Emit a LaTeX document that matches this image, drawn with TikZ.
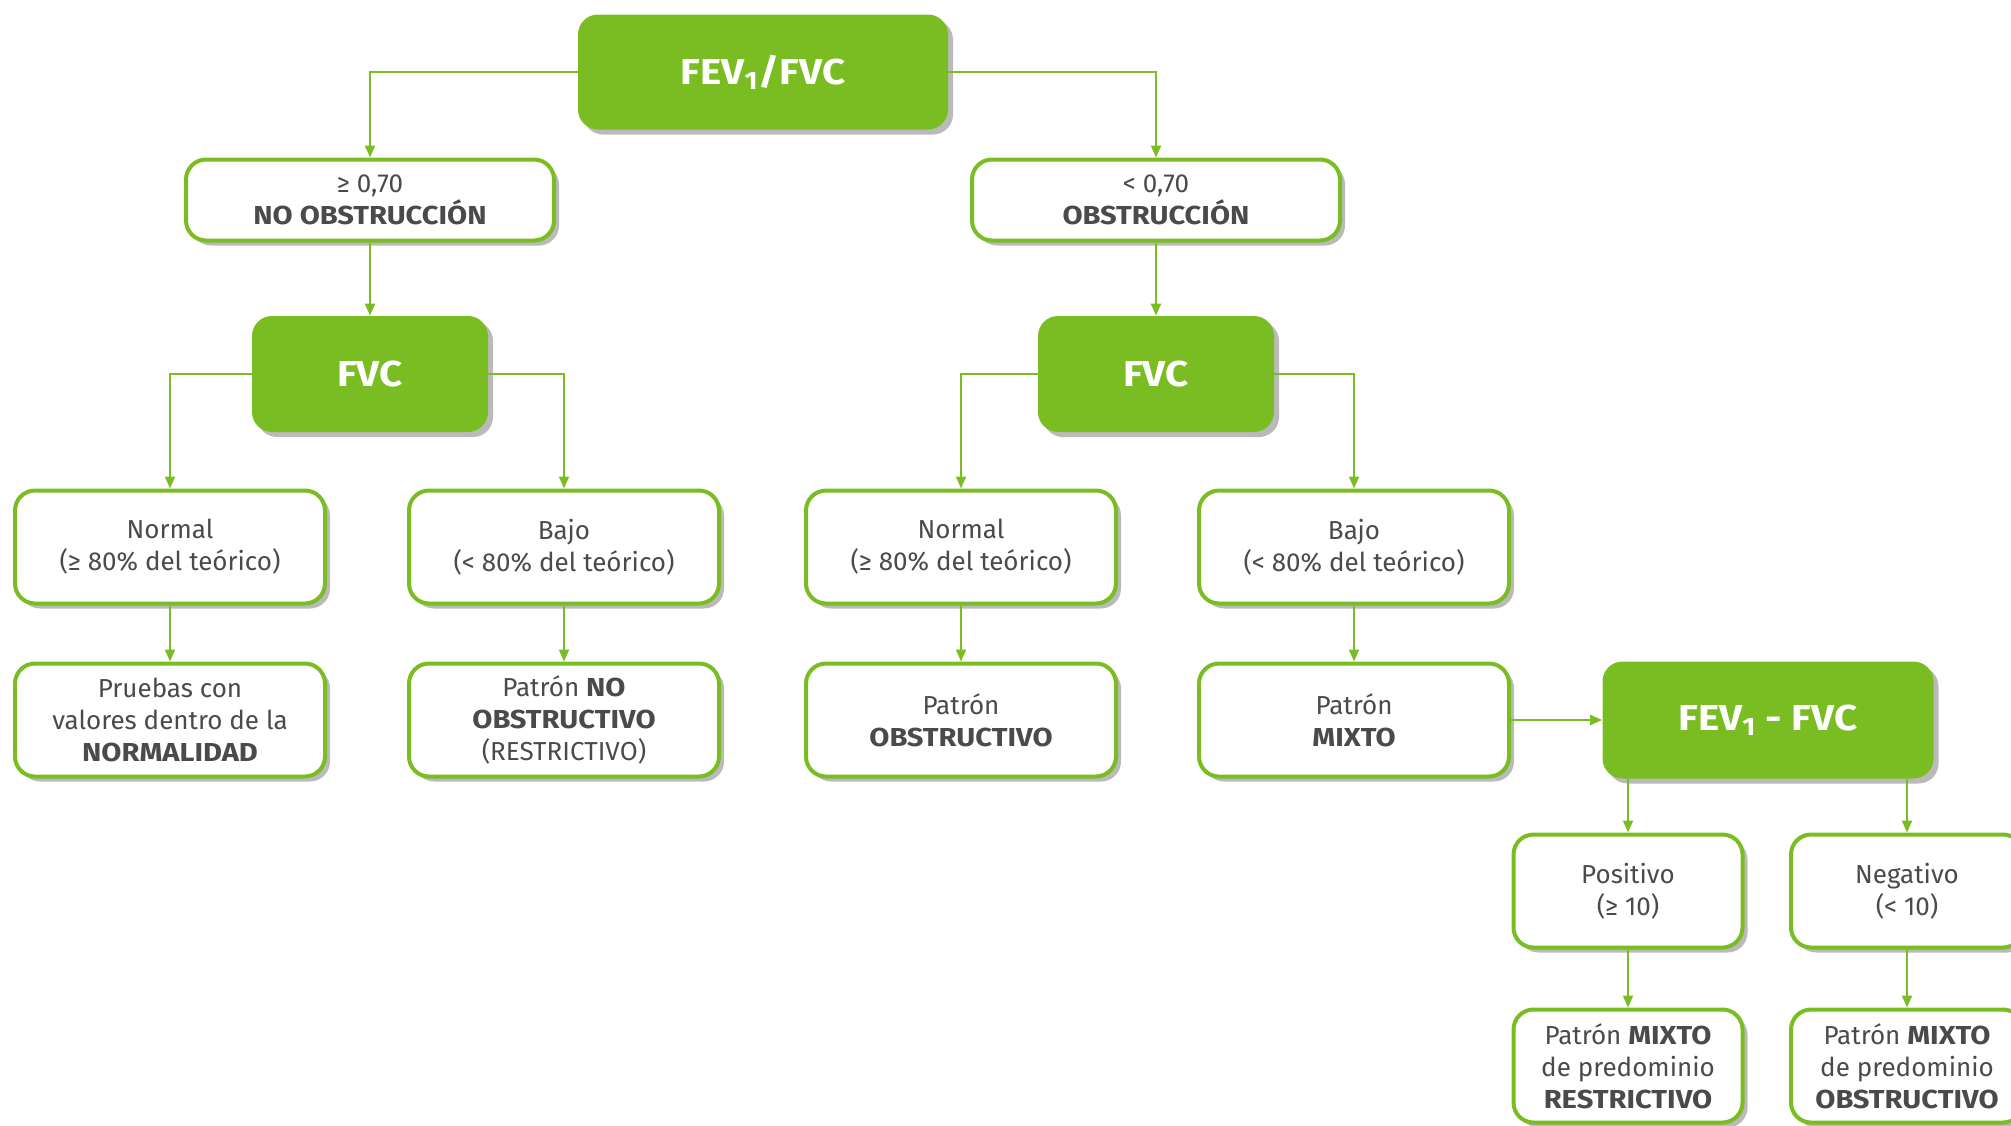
\documentclass[tikz,border=0pt]{standalone}
\usepackage{fontspec}
\setmainfont{Fira Sans}[BoldFeatures={FakeStretch=1.12}]
\usetikzlibrary{arrows.meta,shadows}
\definecolor{verde}{HTML}{7ABD23}
\definecolor{texto}{HTML}{4A4A4A}
\tikzset{
  treenode/.style = {shape=rectangle, rounded corners=10pt,
                     align=center, inner sep=0pt,
                     drop shadow={shadow xshift=2.5pt, shadow yshift=-2.5pt,
                                  fill=black!45, opacity=0.6}},
  root/.style     = {treenode, fill=verde, text=white,
                     font=\fontsize{18}{22}\selectfont\bfseries},
  leaf/.style     = {treenode, draw=verde, line width=2pt, fill=white,
                     text=texto, font=\fontsize{13}{16}\selectfont,
                     minimum width=155pt, minimum height=56.5pt},
  link/.style     = {draw=verde, line width=1pt,
                     -{Triangle[length=6pt,width=5pt]}}
}

\begin{document}
\begin{tikzpicture}[x=0.5pt,y=-0.5pt]
  \useasboundingbox (0,0) rectangle (2011,1125);

  % first level
  \node [root, minimum width=185pt, minimum height=57.5pt] (fev) at (763,72) {FEV\textsubscript{1}/FVC};
  \node [leaf, minimum width=184pt, minimum height=40.5pt] (noobs) at (370,200) {≥ 0,70\\\textbf{NO OBSTRUCCIÓN}};
  \node [leaf, minimum width=184pt, minimum height=40.5pt] (obs) at (1156,200) {< 0,70\\\textbf{OBSTRUCCIÓN}};

  % FVC
  \node [root, minimum width=118pt, minimum height=58pt] (fvcA) at (370,374) {FVC};
  \node [root, minimum width=118pt, minimum height=58pt] (fvcB) at (1156,374) {FVC};

  \node [leaf] (normA) at (170,547) {Normal\\(≥ 80\% del teórico)};
  \node [leaf] (bajoA) at (564,547) {Bajo\\(< 80\% del teórico)};
  \node [leaf] (normB) at (961,547) {Normal\\(≥ 80\% del teórico)};
  \node [leaf] (bajoB) at (1354,547) {Bajo\\(< 80\% del teórico)};

  % patterns
  \node [leaf] (normal) at (170,720) {Pruebas con\\valores dentro de la\\\textbf{NORMALIDAD}};
  \node [leaf] (restr) at (564,720) {Patrón \textbf{NO}\\\textbf{OBSTRUCTIVO}\\(RESTRICTIVO)};
  \node [leaf] (obstr) at (961,720) {Patrón\\\textbf{OBSTRUCTIVO}};
  \node [leaf] (mixto) at (1354,720) {Patrón\\\textbf{MIXTO}};

  % mixed pattern
  \node [root, minimum width=165.5pt, minimum height=58.5pt] (dif) at (1768,720) {FEV\textsubscript{1} - FVC};
  \node [leaf, minimum width=114.5pt] (pos) at (1628,891) {Positivo\\(≥ 10)};
  \node [leaf, minimum width=116pt] (neg) at (1907,891) {Negativo\\(< 10)};
  \node [leaf, minimum width=114.5pt] (mixR) at (1628,1066) {Patrón \textbf{MIXTO}\\de predominio\\\textbf{RESTRICTIVO}};
  \node [leaf, minimum width=116pt] (mixO) at (1907,1066) {Patrón \textbf{MIXTO}\\de predominio\\\textbf{OBSTRUCTIVO}};

  % connectors
  \draw [link] (fev.west) -| (noobs.north);
  \draw [link] (fev.east) -| (obs.north);
  \draw [link] (noobs) -- (fvcA);
  \draw [link] (obs) -- (fvcB);
  \draw [link] (fvcA.west) -| (normA.north);
  \draw [link] (fvcA.east) -| (bajoA.north);
  \draw [link] (fvcB.west) -| (normB.north);
  \draw [link] (fvcB.east) -| (bajoB.north);
  \draw [link] (normA) -- (normal);
  \draw [link] (bajoA) -- (restr);
  \draw [link] (normB) -- (obstr);
  \draw [link] (bajoB) -- (mixto);
  \draw [link] (mixto) -- (dif);
  \draw [link] (pos.north |- dif.south) -- (pos.north);
  \draw [link] (neg.north |- dif.south) -- (neg.north);
  \draw [link] (pos) -- (mixR);
  \draw [link] (neg) -- (mixO);
\end{tikzpicture}
\end{document}
